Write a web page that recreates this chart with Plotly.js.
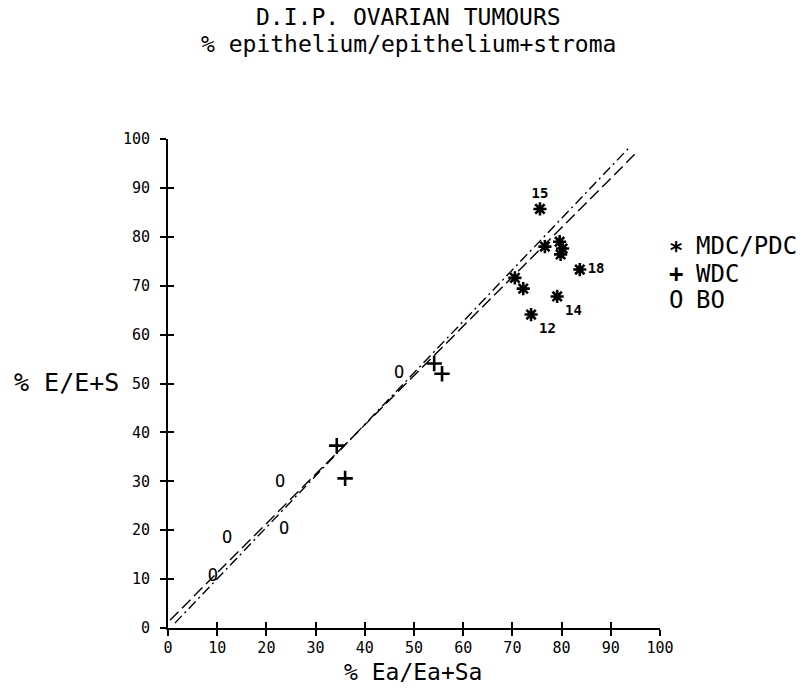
<!DOCTYPE html>
<html>
<head>
<meta charset="utf-8">
<script src="https://cdn.plot.ly/plotly-3.0.1.min.js"></script>
<style>
html,body{margin:0;padding:0;background:#fff;}
#chart{width:801px;height:692px;}
</style>
</head>
<body>
<div id="chart"></div>
<script>
// ---- data ----
const mdcX = [75.6, 76.6, 79.6, 80.2, 79.8, 83.7, 70.5, 72.2, 79.1, 73.8];
const mdcY = [85.7, 78.0, 79.0, 77.6, 76.4, 73.3, 71.6, 69.4, 67.8, 64.1];
const mdcLabels = ['15', '', '', '', '', '18', '', '', '14', '12'];
const mdcLabelPos = ['top center', 'top center', 'top center', 'top center', 'top center',
                     'middle right', 'top center', 'top center', 'bottom right', 'bottom right'];

const wdcX = [34.3, 36.0, 54.1, 55.7];
const wdcY = [37.3, 30.6, 54.1, 52.0];

const boX = [9.1, 12.0, 22.8, 23.6, 47.0];
const boY = [10.4, 18.2, 29.8, 20.0, 52.0];

// two fitted lines (end points)
const dashLineX = [0.4, 94.9];
const dashLineY = [1.6, 96.9];
const dashDotLineX = [1.4, 93.7];
const dashDotLineY = [1.0, 98.2];

const tickVals = [0, 10, 20, 30, 40, 50, 60, 70, 80, 90, 100];
const tickText = ['0', '10', '20', '30', '40', '50', '60', '70', '80', '90', '100'];

const legendSymbols = ['\u2217', '+', 'O'];
const legendSymbolWeights = ['bold', 'bold', 'normal'];
const legendNames = ['MDC/PDC', 'WDC', 'BO'];

const titleLine1 = 'D.I.P. OVARIAN TUMOURS';
const titleLine2 = '% epithelium/epithelium+stroma';
const xTitle = '% Ea/Ea+Sa';
const yTitle = '% E/E+S';

const FONT = 'DejaVu Sans Mono, monospace';

const traces = [
  {x: dashLineX, y: dashLineY, mode: 'lines', line: {color: '#000', width: 1.4, dash: '12px,5px'}, hoverinfo: 'skip'},
  {x: dashDotLineX, y: dashDotLineY, mode: 'lines', line: {color: '#000', width: 1.4, dash: '10px,4px,2px,4px'}, hoverinfo: 'skip'},
  {x: mdcX, y: mdcY, mode: 'markers+text', text: mdcLabels, textposition: mdcLabelPos,
   textfont: {family: FONT, size: 14, color: '#000', weight: 'bold'},
   marker: {symbol: 'asterisk-open', size: 11, color: '#000', line: {color: '#000', width: 2.6}}},
  {x: wdcX, y: wdcY, mode: 'markers',
   marker: {symbol: 'cross-thin-open', size: 11, color: '#000', line: {color: '#000', width: 2.6}}},
  {x: boX, y: boY, mode: 'text', text: boX.map(() => 'O'), textposition: 'middle center',
   textfont: {family: FONT, size: 17, color: '#000'}},
  {x: [], y: [], xaxis: 'x2', yaxis: 'y2', showlegend: false}
];

const PW = 492, PH = 489, PL = 168, PB = 628;
const px = v => (v - PL) / PW;
const py = v => (PB - v) / PH;

const annotations = [
  {text: titleLine1, xref: 'paper', yref: 'paper', x: px(408), y: py(17),
   xanchor: 'center', yanchor: 'middle', showarrow: false, borderpad: 0, font: {family: FONT, size: 23, color: '#000'}},
  {text: titleLine2, xref: 'paper', yref: 'paper', x: px(408), y: py(44),
   xanchor: 'center', yanchor: 'middle', showarrow: false, borderpad: 0, font: {family: FONT, size: 23, color: '#000'}},
  {text: xTitle, xref: 'paper', yref: 'paper', x: px(413), y: py(672),
   xanchor: 'center', yanchor: 'middle', showarrow: false, font: {family: FONT, size: 23, color: '#000'}},
  {text: yTitle, xref: 'paper', yref: 'paper', x: px(12), y: py(382),
   xanchor: 'left', yanchor: 'middle', showarrow: false, font: {family: FONT, size: 25, color: '#000'}}
];
const legendRowY = [246, 273.5, 300];
legendNames.forEach((name, i) => {
  annotations.push({text: legendSymbols[i], xref: 'paper', yref: 'paper', x: px(676),
    y: py(legendRowY[i]), xanchor: 'center', yanchor: 'middle', showarrow: false,
    font: {family: FONT, size: 24, color: '#000', weight: legendSymbolWeights[i]}});
  annotations.push({text: name, xref: 'paper', yref: 'paper', x: px(694),
    y: py(legendRowY[i]), xanchor: 'left', yanchor: 'middle', showarrow: false,
    font: {family: FONT, size: 24, color: '#000'}});
});

const axisBase = {
  range: [0, 100], autorange: false, showgrid: false, zeroline: false,
  showline: true, linecolor: '#000', linewidth: 2,
  tickmode: 'array', tickvals: tickVals, ticktext: tickText,
  ticks: 'outside', ticklen: 6, tickwidth: 2, tickcolor: '#000',
  tickfont: {family: FONT, size: 15, color: '#000'}, fixedrange: true
};

const layout = {
  width: 801, height: 692,
  margin: {l: 168, r: 141, t: 139, b: 64, pad: 0},
  paper_bgcolor: '#fff', plot_bgcolor: '#fff',
  showlegend: false,
  xaxis: Object.assign({}, axisBase, {ticklabelstandoff: -1}),
  yaxis: Object.assign({}, axisBase, {ticklabelstandoff: 7}),
  xaxis2: Object.assign({}, axisBase, {overlaying: 'x', anchor: 'y', side: 'bottom', ticks: 'inside', ticklen: 6, showticklabels: false}),
  yaxis2: Object.assign({}, axisBase, {overlaying: 'y', anchor: 'x', side: 'left', ticks: 'inside', ticklen: 6, showticklabels: false}),
  annotations: annotations
};

Plotly.newPlot('chart', traces, layout, {staticPlot: true, displayModeBar: false});
</script>
</body>
</html>
